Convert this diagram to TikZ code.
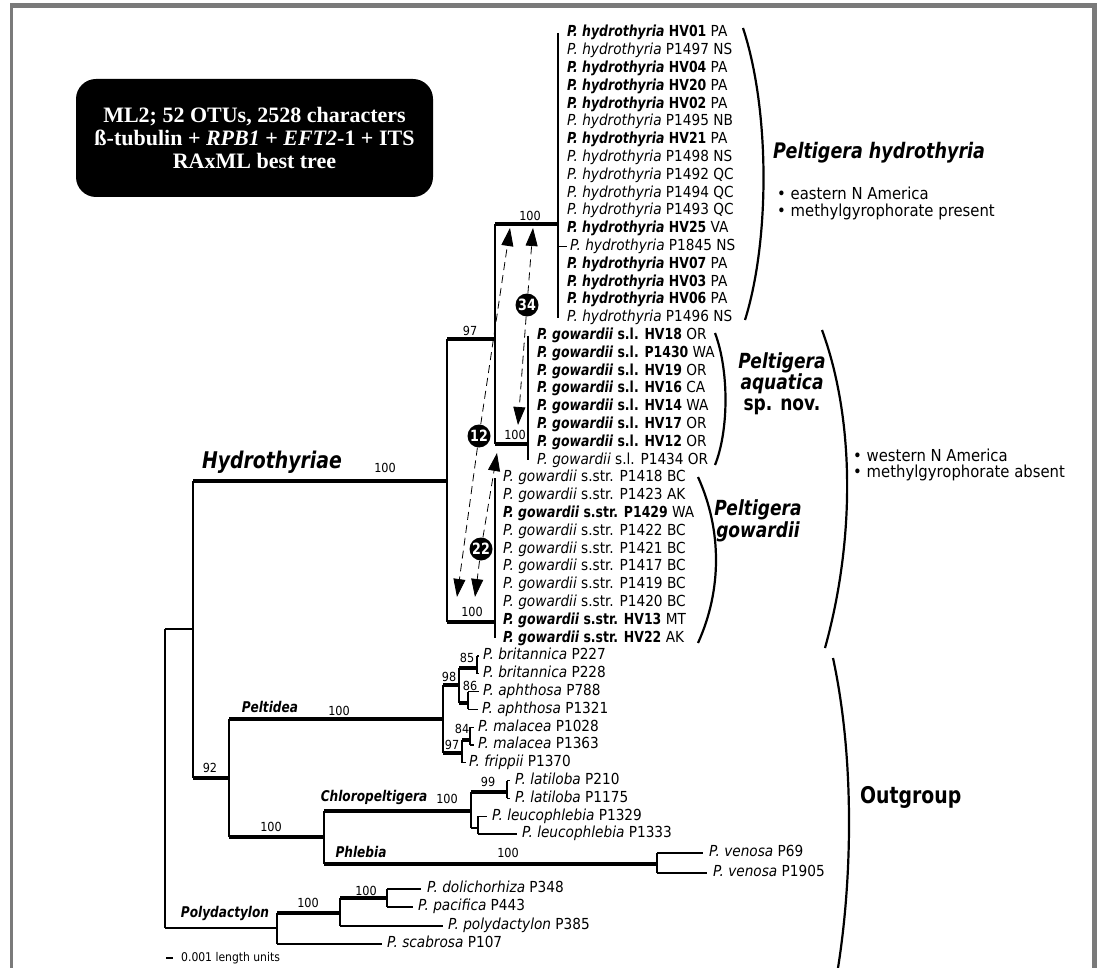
\documentclass[tikz,border=0pt]{standalone}
\usepackage{fontspec}
\setmainfont{DejaVu Sans}[UprightFeatures={FakeStretch=0.9},ItalicFeatures={FakeStretch=0.9},BoldFeatures={FakeStretch=0.82},BoldItalicFeatures={FakeStretch=0.82}]
\newfontfamily\tnr{Liberation Serif}
\usetikzlibrary{arrows.meta}
\definecolor{framegray}{RGB}{122,122,122}
\newcommand{\Bt}[3]{{\bfseries\itshape #1} {\bfseries #2} #3}
\newcommand{\Rt}[3]{{\itshape #1} #2 #3}
\newcommand{\fsz}[1]{\fontsize{#1}{#1}\selectfont}
\newcommand{\ry}[1]{33+17.8*#1}
\begin{document}
\begin{tikzpicture}[x=1pt,y=-1pt,
  br/.style={line width=1.1pt},
  tk/.style={line width=3.3pt},
  tip/.style={anchor=west,inner sep=0pt,font=\fsz{15.2},text height=11.1pt,text depth=3.3pt},
  sup/.style={inner sep=0pt,font=\fsz{12.5}},
  clade/.style={inner sep=0pt,font=\bfseries\itshape\fsz{14.8}},
  bracestyle/.style={line width=2.2pt},
  circ/.style={circle,fill=black,text=white,inner sep=0pt,minimum size=23pt,font=\bfseries\fsz{15.5}},
  da/.style={dash pattern=on 8pt off 5pt,line width=0.8pt,-{Triangle[length=18pt,width=12pt]}},
  bul/.style={anchor=west,inner sep=0pt,font=\fsz{16.5}}
]
\useasboundingbox (0,0) rectangle (1098,968);
% frame
\fill[framegray] (9.5,3) rectangle (1097,8.5);
\fill[framegray] (9.5,3) rectangle (12.5,968);
\fill[framegray] (1091.5,3) rectangle (1097,968);

% info box
\node[fill=black,rounded corners=20pt,minimum width=357pt,minimum height=118pt,text=white,align=center,
      font=\tnr\bfseries\fontsize{22}{23}\selectfont] (info) at (254.5,138)
  {ML2; 52 OTUs, 2528 characters\\ß-tubulin + \textit{RPB1} + \textit{EFT2}-1 + ITS\\RAxML best tree};

% internal nodes
\coordinate (R) at (165,629);
\coordinate (I) at (193,629);
\coordinate (Hy) at (447,481);
\coordinate (H97) at (495,339);
\coordinate (Hh) at (558,224);
\coordinate (Aq) at (528,444);
\coordinate (Ss) at (495,622);
\coordinate (N92) at (229,778);
\coordinate (Pe) at (443,719);
\coordinate (N98) at (459,685);
\coordinate (N85) at (477,668);
\coordinate (N86) at (468,703);
\coordinate (N97) at (462,753);
\coordinate (N84) at (470,740);
\coordinate (Nb) at (324,837);
\coordinate (Ch) at (471,811);
\coordinate (La) at (507,792);
\coordinate (Le) at (478,828);
\coordinate (Ph) at (657,864);
\coordinate (Pd) at (277,928);
\coordinate (P1) at (340,913);
\coordinate (P2) at (387,898);

% hydrothyria tips
\node[tip] (t0) at (567,{\ry{0}}) {\Bt{P. hydrothyria}{HV01}{PA}};
\node[tip] (t1) at (567,{\ry{1}}) {\Rt{P. hydrothyria}{P1497}{NS}};
\node[tip] (t2) at (567,{\ry{2}}) {\Bt{P. hydrothyria}{HV04}{PA}};
\node[tip] (t3) at (567,{\ry{3}}) {\Bt{P. hydrothyria}{HV20}{PA}};
\node[tip] (t4) at (567,{\ry{4}}) {\Bt{P. hydrothyria}{HV02}{PA}};
\node[tip] (t5) at (567,{\ry{5}}) {\Rt{P. hydrothyria}{P1495}{NB}};
\node[tip] (t6) at (567,{\ry{6}}) {\Bt{P. hydrothyria}{HV21}{PA}};
\node[tip] (t7) at (567,{\ry{7}}) {\Rt{P. hydrothyria}{P1498}{NS}};
\node[tip] (t8) at (567,{\ry{8}}) {\Rt{P. hydrothyria}{P1492}{QC}};
\node[tip] (t9) at (567,{\ry{9}}) {\Rt{P. hydrothyria}{P1494}{QC}};
\node[tip] (t10) at (567,{\ry{10}}) {\Rt{P. hydrothyria}{P1493}{QC}};
\node[tip] (t11) at (567,{\ry{11}}) {\Bt{P. hydrothyria}{HV25}{VA}};
\node[tip] (t12) at (570,{\ry{12}}) {\Rt{P. hydrothyria}{P1845}{NS}};
\node[tip] (t13) at (567,{\ry{13}}) {\Bt{P. hydrothyria}{HV07}{PA}};
\node[tip] (t14) at (567,{\ry{14}}) {\Bt{P. hydrothyria}{HV03}{PA}};
\node[tip] (t15) at (567,{\ry{15}}) {\Bt{P. hydrothyria}{HV06}{PA}};
\node[tip] (t16) at (567,{\ry{16}}) {\Rt{P. hydrothyria}{P1496}{NS}};
% gowardii s.l.
\node[tip] (s0) at (537,{\ry{17}}) {\Bt{P. gowardii}{s.l. HV18}{OR}};
\node[tip] (s1) at (537,{\ry{18}}) {\Bt{P. gowardii}{s.l. P1430}{WA}};
\node[tip] (s2) at (537,{\ry{19}}) {\Bt{P. gowardii}{s.l. HV19}{OR}};
\node[tip] (s3) at (537,{\ry{20}}) {\Bt{P. gowardii}{s.l. HV16}{CA}};
\node[tip] (s4) at (537,{\ry{21}}) {\Bt{P. gowardii}{s.l. HV14}{WA}};
\node[tip] (s5) at (537,{\ry{22}}) {\Bt{P. gowardii}{s.l. HV17}{OR}};
\node[tip] (s6) at (537,{\ry{23}}) {\Bt{P. gowardii}{s.l. HV12}{OR}};
\node[tip] (s7) at (537,{\ry{24}}) {\Rt{P. gowardii}{s.l. P1434}{OR}};
% gowardii s.str.
\node[tip] (g0) at (503,{\ry{25}}) {\Rt{P. gowardii}{s.str. P1418}{BC}};
\node[tip] (g1) at (503,{\ry{26}}) {\Rt{P. gowardii}{s.str. P1423}{AK}};
\node[tip] (g2) at (503,{\ry{27}}) {\Bt{P. gowardii}{s.str. P1429}{WA}};
\node[tip] (g3) at (503,{\ry{28}}) {\Rt{P. gowardii}{s.str. P1422}{BC}};
\node[tip] (g4) at (503,{\ry{29}}) {\Rt{P. gowardii}{s.str. P1421}{BC}};
\node[tip] (g5) at (503,{\ry{30}}) {\Rt{P. gowardii}{s.str. P1417}{BC}};
\node[tip] (g6) at (503,{\ry{31}}) {\Rt{P. gowardii}{s.str. P1419}{BC}};
\node[tip] (g7) at (503,{\ry{32}}) {\Rt{P. gowardii}{s.str. P1420}{BC}};
\node[tip] (g8) at (503,{\ry{33}}) {\Bt{P. gowardii}{s.str. HV13}{MT}};
\node[tip] (g9) at (503,{\ry{34}}) {\Bt{P. gowardii}{s.str. HV22}{AK}};
% outgroup tips
\node[tip] (o1) at (483,{\ry{35}}) {\Rt{P. britannica}{P227}{}};
\node[tip] (o2) at (483,{\ry{36}}) {\Rt{P. britannica}{P228}{}};
\node[tip] (o3) at (483,{\ry{37}}) {\Rt{P. aphthosa}{P788}{}};
\node[tip] (o4) at (482,{\ry{38}}) {\Rt{P. aphthosa}{P1321}{}};
\node[tip] (o5) at (478,{\ry{39}}) {\Rt{P. malacea}{P1028}{}};
\node[tip] (o6) at (478,{\ry{40}}) {\Rt{P. malacea}{P1363}{}};
\node[tip] (o7) at (469,{\ry{41}}) {\Rt{P. frippii}{P1370}{}};
\node[tip] (o8) at (515,{\ry{42}}) {\Rt{P. latiloba}{P210}{}};
\node[tip] (o9) at (515,{\ry{43}}) {\Rt{P. latiloba}{P1175}{}};
\node[tip] (o10) at (492,{\ry{44}}) {\Rt{P. leucophlebia}{P1329}{}};
\node[tip] (o11) at (522,{\ry{45}}) {\Rt{P. leucophlebia}{P1333}{}};
\node[tip] (o12) at (709,853) {\Rt{P. venosa}{P69}{}};
\node[tip] (o13) at (713,873) {\Rt{P. venosa}{P1905}{}};
\node[tip] (o14) at (427,889) {\Rt{P. dolichorhiza}{P348}{}};
\node[tip] (o15) at (418,907) {\Rt{P. pacifica}{P443}{}};
\node[tip] (o16) at (448,926) {\Rt{P. polydactylon}{P385}{}};
\node[tip] (o17) at (387,944) {\Rt{P. scabrosa}{P107}{}};

% tree: root
\draw[br] (R) -- (R |- Pd);
\draw[br] (R) -- (I);
\draw[br] (R |- Pd) -- (Pd);
% ingroup
\draw[br] (I |- Hy) -- (I |- N92);
\draw[tk] (I |- Hy) -- (Hy);
\draw[tk] (I |- N92) -- (N92);
% Hydrothyriae
\draw[br] (Hy |- H97) -- (Hy |- Ss);
\draw[tk] (Hy |- H97) -- (H97);
\draw[tk] (Hy |- Ss) -- (Ss);
\draw[br] (H97 |- Hh) -- (H97 |- Aq);
\draw[tk] (H97 |- Hh) -- (Hh);
\draw[tk] (H97 |- Aq) -- (Aq);
\draw[br] (Hh |- t0) -- (Hh |- t16);
\draw[br] (Hh |- t12) -- ([xshift=-3pt]t12.west);
\draw[br] (Aq |- s0) -- (Aq |- s7);
\draw[br] (Ss |- g0) -- (Ss |- g9);
% N92
\draw[br] (N92 |- Pe) -- (N92 |- Nb);
\draw[tk] (N92 |- Pe) -- (Pe);
\draw[tk] (N92 |- Nb) -- (Nb);
% Peltidea
\draw[br] (Pe |- N98) -- (Pe |- N97);
\draw[tk] (Pe |- N98) -- (N98);
\draw[tk] (Pe |- N97) -- (N97);
\draw[br] (N98 |- N85) -- (N98 |- N86);
\draw[tk] (N98 |- N85) -- (N85);
\draw[tk] (N98 |- N86) -- (N86);
\draw[br] (N85 |- o1) -- (N85 |- o2);
\draw[br] (N85 |- o1) -- ([xshift=-4pt]o1.west);
\draw[br] (N85 |- o2) -- ([xshift=-4pt]o2.west);
\draw[br] (N86 |- o3) -- (N86 |- o4);
\draw[br] (N86 |- o3) -- ([xshift=-4pt]o3.west);
\draw[br] (N86 |- o4) -- ([xshift=-4pt]o4.west);
\draw[br] (N97 |- N84) -- (N97 |- o7);
\draw[tk] (N97 |- N84) -- (N84);
\draw[br] (N97 |- o7) -- ([xshift=-3pt]o7.west);
\draw[br] (N84 |- o5) -- (N84 |- o6);
\draw[br] (N84 |- o5) -- ([xshift=-4pt]o5.west);
\draw[br] (N84 |- o6) -- ([xshift=-4pt]o6.west);
% Nb
\draw[br] (Nb |- Ch) -- (Nb |- Ph);
\draw[tk] (Nb |- Ch) -- (Ch);
\draw[tk] (Nb |- Ph) -- (Ph);
\draw[br] (Ch |- La) -- (Ch |- Le);
\draw[tk] (Ch |- La) -- (La);
\draw[br] (Ch |- Le) -- (Le);
\draw[br] (La |- o8) -- (La |- o9);
\draw[br] (La |- o8) -- ([xshift=-5pt]o8.west);
\draw[br] (La |- o9) -- ([xshift=-5pt]o9.west);
\draw[br] (Le |- o10) -- (Le |- o11);
\draw[br] (Le |- o10) -- ([xshift=-5pt]o10.west);
\draw[br] (Le |- o11) -- ([xshift=-5pt]o11.west);
\draw[br] (Ph |- o12) -- (Ph |- o13);
\draw[br] (Ph |- o12) -- ([xshift=-6pt]o12.west);
\draw[br] (Ph |- o13) -- ([xshift=-6pt]o13.west);
% Polydactylon
\draw[br] (Pd |- P1) -- (Pd |- o17);
\draw[tk] (Pd |- P1) -- (P1);
\draw[br] (Pd |- o17) -- ([xshift=-5pt]o17.west);
\draw[br] (P1 |- P2) -- (P1 |- o16);
\draw[tk] (P1 |- P2) -- (P2);
\draw[br] (P1 |- o16) -- ([xshift=-5pt]o16.west);
\draw[br] (P2 |- o14) -- (P2 |- o15);
\draw[br] (P2 |- o14) -- ([xshift=-6pt]o14.west);
\draw[br] (P2 |- o15) -- ([xshift=-5pt]o15.west);

% support values
\node[sup] (b1) at (530,216) {100};
\node[sup] (b2) at (470,331) {97};
\node[sup] (b3) at (515,435) {100};
\node[sup] (b4) at (472,612) {100};
\node[sup] (b5) at (385,468) {100};
\node[sup] (b6) at (210,768) {92};
\node[sup] (b7) at (339,711) {100};
\node[sup] (b8) at (449,677) {98};
\node[sup] (b9) at (467,658) {85};
\node[sup] (b10) at (470,686) {86};
\node[sup] (b11) at (462,729) {84};
\node[sup] (b12) at (452,745) {97};
\node[sup] (b13) at (488,782) {99};
\node[sup] (b14) at (447,799) {100};
\node[sup] (b15) at (271,827) {100};
\node[sup] (b16) at (508,853) {100};
\node[sup] (b17) at (308,903) {100};
\node[sup] (b18) at (366,891) {100};

% clade names
\node[inner sep=0pt,font=\bfseries\itshape\fsz{23}] (cHy) at (272,462) {Hydrothyriae};
\node[clade] (cPe) at (270,707) {Peltidea};
\node[clade] (cCh) at (374,797) {Chloropeltigera};
\node[clade] (cPh) at (361,852) {Phlebia};
\node[clade] (cPd) at (225,913) {Polydactylon};

% dashed double arrows
\node[circ] (c34) at (527,305) {34};
\coordinate (a34t) at (533,228);
\coordinate (a34b) at (518,425);
\draw[da] (c34) -- (a34t);
\draw[da] (c34) -- (a34b);
\node[circ] (c12) at (479,436) {12};
\coordinate (a12t) at (510,228);
\coordinate (a12b) at (457,597);
\draw[da] (c12) -- (a12t);
\draw[da] (c12) -- (a12b);
\node[circ] (c22) at (481,549) {22};
\coordinate (a22t) at (497,453);
\coordinate (a22b) at (475,597);
\draw[da] (c22) -- (a22t);
\draw[da] (c22) -- (a22b);

% braces
\draw[bracestyle] (743,28) .. controls (770,110) and (770,240) .. (745,320);
\draw[bracestyle] (715,333) .. controls (729,370) and (729,430) .. (715,465);
\draw[bracestyle] (698,477) .. controls (722,530) and (722,590) .. (698,643);
\draw[bracestyle] (822,330) .. controls (855,420) and (855,540) .. (825,648);
\draw[bracestyle] (833,658) .. controls (855,760) and (852,880) .. (838,968);

% right-hand labels
\node[anchor=west,inner sep=0pt,font=\bfseries\itshape\fsz{21.4}] (lHyd) at (773,153) {Peltigera hydrothyria};
\node[bul] (e1) at (777,193) {• eastern N America};
\node[bul] (e2) at (777,212) {• methylgyrophorate present};
\node[align=center,inner sep=0pt,font=\fontsize{20.8}{21}\selectfont] (lAq) at (782,384)
  {\bfseries\itshape Peltigera\\\bfseries\itshape aquatica\\\bfseries sp. nov.};
\node[align=center,inner sep=0pt,font=\fontsize{20.8}{22}\selectfont] (lGo) at (758,521)
  {\bfseries\itshape Peltigera\\\bfseries\itshape gowardii};
\node[bul] (w1) at (853,455) {• western N America};
\node[bul] (w2) at (853,473) {• methylgyrophorate absent};
\node[anchor=west,inner sep=0pt,font=\bfseries\fsz{23}] (lOut) at (860,797) {Outgroup};

% scale bar
\coordinate (sb1) at (166,958);
\coordinate (sb2) at (173,958);
\draw[br] (sb1) -- (sb2);
\node[anchor=west,inner sep=0pt,font=\fsz{12}] (sbl) at (181,958) {0.001 length units};
\end{tikzpicture}
\end{document}
